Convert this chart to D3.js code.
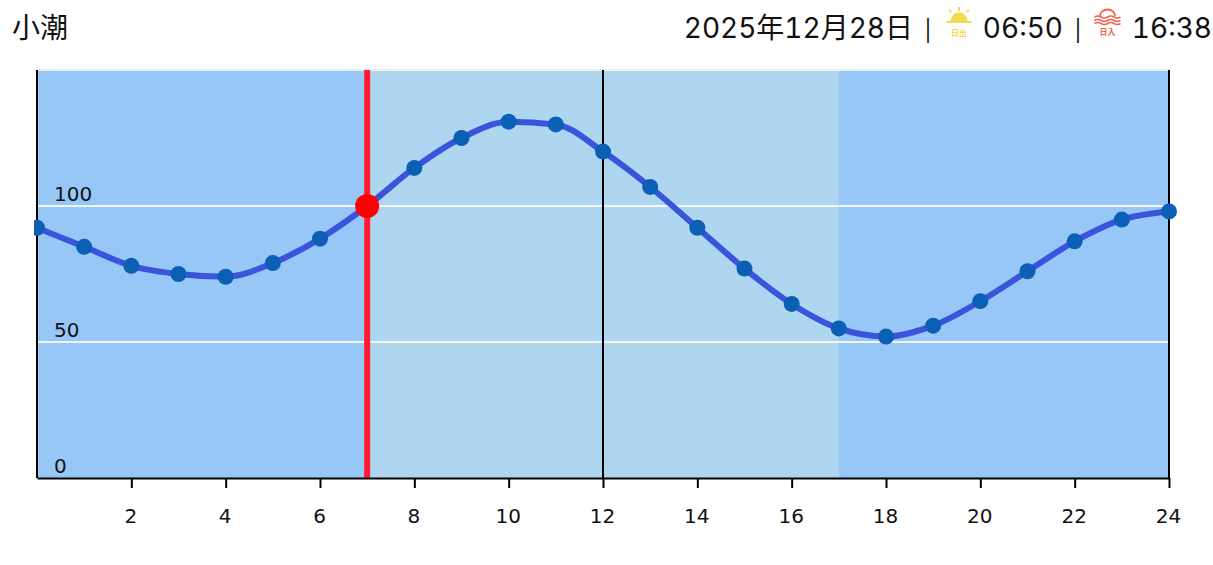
<!DOCTYPE html>
<html>
<head>
<meta charset="utf-8">
<script src="https://cdn.jsdelivr.net/npm/d3@7"></script>
<style>
body { margin: 0; background: #fff; overflow: hidden; }
svg { display: block; }
.head { font-family: Inter, "Noto Sans CJK JP", sans-serif; font-size: 28px; fill: #111; font-variant-numeric: tabular-nums; font-feature-settings: "tnum" 1; }
.bar { font-size: 21px; }
.tick text, .yLabel { font-family: "DejaVu Sans", sans-serif; font-size: 20px; fill: #111; }
</style>
</head>
<body>
<div id="chart"></div>
<script>
// data
var hours = [0,1,2,3,4,5,6,7,8,9,10,11,12,13,14,15,16,17,18,19,20,21,22,23,24];
var tide = [92,85,78,75,74,79,88,100,114,125,131,130,120,107,92,77,64,55,52,56,65,76,87,95,98];
var xTicks = [2,4,6,8,10,12,14,16,18,20,22,24];
var yTicks = [0,50,100];
var dayRange = [7,17];
var nowHour = 7;
var nowValue = 100;
var title = "小潮";
var dateText = "2025年12月28日";
var sunrise = "06:50";
var sunset = "16:38";

var width = 1213;
var height = 565;

var svg = d3
    .select("#chart")
    .append("svg")
    .attr("width",width)
    .attr("height",height);

var xScale = d3.scaleLinear().domain([0,24]).range([37,1169]);
var yScale = d3.scaleLinear().domain([0,150]).range([478,70]);

// first point gets cut just left of the axis
svg.append("clipPath")
    .attr("id","plotClip")
    .append("rect")
    .attr("x",xScale(0)-3)
    .attr("y",0)
    .attr("width",width)
    .attr("height",height);

// background, night then daylight
svg.append("rect")
    .attr("x",xScale(0))
    .attr("y",yScale(150))
    .attr("width",xScale(24)-xScale(0))
    .attr("height",yScale(0)-yScale(150))
    .attr("fill","#97c7f7");

svg.append("rect")
    .attr("x",xScale(dayRange[0]))
    .attr("y",yScale(150))
    .attr("width",xScale(dayRange[1])-xScale(dayRange[0]))
    .attr("height",yScale(0)-yScale(150))
    .attr("fill","#aed6f1");

// top edge
svg.append("line")
    .attr("x1",xScale(0))
    .attr("x2",xScale(24))
    .attr("y1",yScale(150))
    .attr("y2",yScale(150))
    .attr("stroke","#eeeeee")
    .attr("stroke-width",2);

// horizontal grid
svg.selectAll(".grid")
    .data(yTicks.filter(function(d) { return d > 0; }))
    .enter()
    .append("line")
    .attr("class","grid")
    .attr("x1",xScale(0))
    .attr("x2",xScale(24))
    .attr("y1",function(d) { return yScale(d); })
    .attr("y2",function(d) { return yScale(d); })
    .attr("stroke","#f2f5f8")
    .attr("stroke-width",2);

svg.selectAll(".yLabel")
    .data(yTicks)
    .enter()
    .append("text")
    .attr("class","yLabel")
    .attr("x",xScale(0)+17)
    .attr("y",function(d) { return yScale(d)-5; })
    .text(function(d) { return d; });

// vertical lines at 0, 12, 24
svg.selectAll(".vline")
    .data([0,12,24])
    .enter()
    .append("line")
    .attr("class","vline")
    .attr("x1",function(d) { return xScale(d); })
    .attr("x2",function(d) { return xScale(d); })
    .attr("y1",yScale(150))
    .attr("y2",yScale(0))
    .attr("stroke","#000")
    .attr("stroke-width",2);

// current time
svg.append("line")
    .attr("x1",xScale(nowHour))
    .attr("x2",xScale(nowHour))
    .attr("y1",yScale(150))
    .attr("y2",yScale(0))
    .attr("stroke","#ff1a2e")
    .attr("stroke-width",6);

// tide curve
var line = d3.line()
    .x(function(d,i) { return xScale(hours[i]); })
    .y(function(d) { return yScale(d); })
    .curve(d3.curveMonotoneX);

svg.append("path")
    .datum(tide)
    .attr("d",line)
    .attr("fill","none")
    .attr("stroke","#3a54dc")
    .attr("stroke-width",6);

svg.append("g")
    .attr("clip-path","url(#plotClip)")
    .selectAll(".point")
    .data(tide)
    .enter()
    .append("circle")
    .attr("class","point")
    .attr("cx",function(d,i) { return xScale(hours[i]); })
    .attr("cy",function(d) { return yScale(d); })
    .attr("r",8)
    .attr("fill","#0b5fb4");

svg.append("circle")
    .attr("cx",xScale(nowHour))
    .attr("cy",yScale(nowValue))
    .attr("r",12)
    .attr("fill","#ff0000");

// x axis
var xAxis = d3.axisBottom(xScale)
    .tickValues(xTicks)
    .tickSize(10)
    .tickSizeOuter(0)
    .tickPadding(21)
    .tickFormat(function(d) { return d; });

var xG = svg.append("g")
    .attr("transform","translate(0,478)")
    .call(xAxis);

xG.select(".domain").attr("stroke","#000").attr("stroke-width",2);
xG.selectAll(".tick line").attr("stroke","#000").attr("stroke-width",2);
xG.selectAll(".tick text").attr("dx",-1);

// header
function head(x, anchor, s, cls) {
    svg.append("text")
        .attr("class","head " + (cls || ""))
        .attr("x",x)
        .attr("y",38)
        .attr("text-anchor",anchor)
        .text(s);
}

head(12,"start",title);
head(913,"end",dateText);
head(928,"middle","|","bar");
head(1063,"end",sunrise);
head(1078,"middle","|","bar");
head(1212,"end",sunset);

// sunrise icon
var sunIcon = svg.append("g").attr("transform","translate(959,21)");
sunIcon.append("path")
    .attr("d","M-8.5,0A8.5,8.5 0 0 1 8.5,0Z")
    .attr("fill","#f0dc50");
sunIcon.append("rect")
    .attr("x",-12.5)
    .attr("y",0)
    .attr("width",25)
    .attr("height",2)
    .attr("fill","#f0dc50");
sunIcon.append("path")
    .attr("d","M0,-14V-10M-10,-11L-7.5,-9M10,-11L7.5,-9")
    .attr("stroke","#f0dc50")
    .attr("stroke-width",2)
    .attr("fill","none");
sunIcon.append("text")
    .attr("y",15)
    .attr("text-anchor","middle")
    .attr("font-family","Noto Sans CJK JP")
    .attr("font-size",8)
    .attr("font-weight",700)
    .attr("fill","#f0dc50")
    .text("日出");

// sunset icon
var setIcon = svg.append("g").attr("transform","translate(1107.5,17)");
setIcon.append("path")
    .attr("d","M-7.5,-1A7.5,6.5 0 0 1 7.5,-1")
    .attr("stroke","#f0604d")
    .attr("stroke-width",1.8)
    .attr("fill","none");
setIcon.selectAll(".wave")
    .data([0,3.5,6.5])
    .enter()
    .append("path")
    .attr("class","wave")
    .attr("transform",function(d) { return "translate(0," + d + ")"; })
    .attr("d","M-13,0Q-9.75,-2 -6.5,0T0,0T6.5,0T13,0")
    .attr("stroke","#f0604d")
    .attr("stroke-width",1.5)
    .attr("fill","none");
setIcon.append("text")
    .attr("y",18)
    .attr("text-anchor","middle")
    .attr("font-family","Noto Sans CJK JP")
    .attr("font-size",8)
    .attr("font-weight",700)
    .attr("fill","#f0604d")
    .text("日入");
</script>
</body>
</html>
